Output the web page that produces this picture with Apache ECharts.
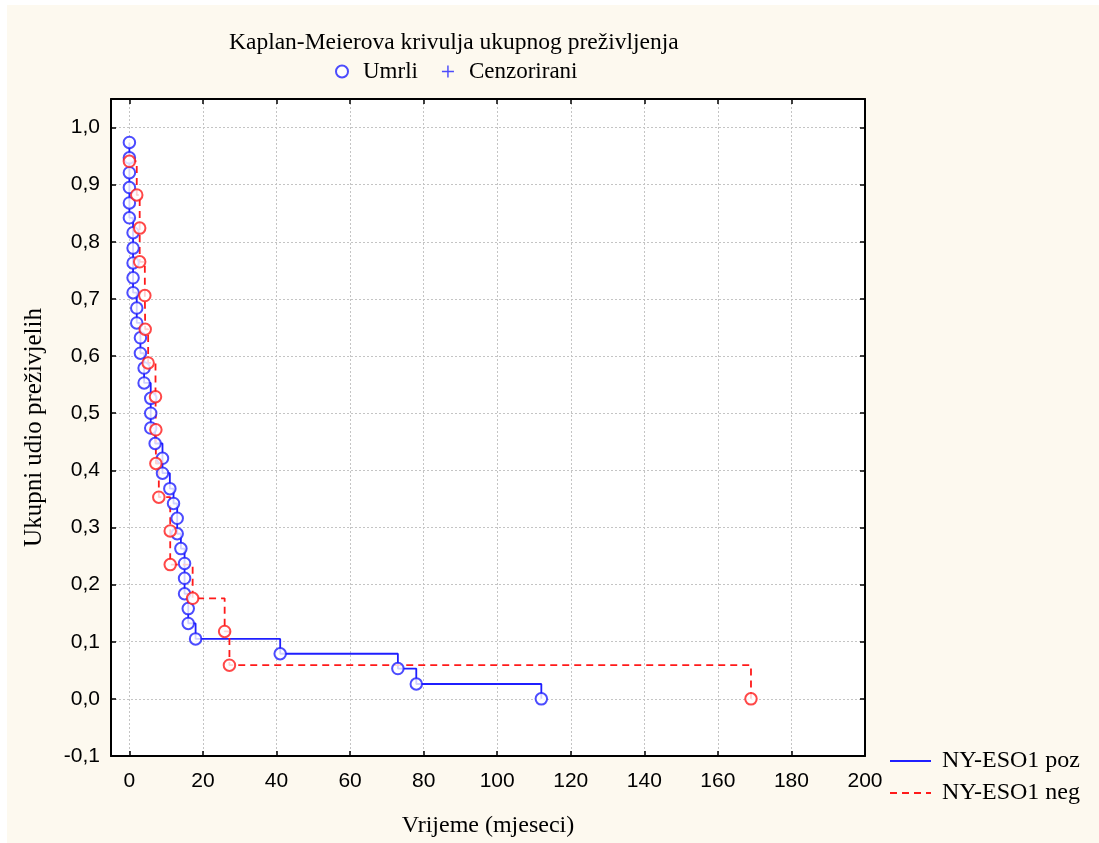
<!DOCTYPE html>
<html>
<head>
<meta charset="utf-8">
<script src="https://cdn.jsdelivr.net/npm/echarts@6/dist/echarts.min.js"></script>
<style>
html,body{margin:0;padding:0;background:#ffffff;}
#c{position:absolute;left:7px;top:5px;width:1092px;height:838px;}
</style>
</head>
<body>
<div id="c"></div>
<script>
// ---- data ----
const titleText = 'Kaplan-Meierova krivulja ukupnog preživljenja';
const xAxisName = 'Vrijeme (mjeseci)';
const yAxisName = 'Ukupni udio preživjelih';
const xTicks = [0, 20, 40, 60, 80, 100, 120, 140, 160, 180, 200];
const yTicks = [-0.1, 0.0, 0.1, 0.2, 0.3, 0.4, 0.5, 0.6, 0.7, 0.8, 0.9, 1.0];

// NY-ESO1 poz: death times (months) and survival after each death
const posTimes = [0, 0, 0, 0, 0, 0, 1, 1, 1, 1, 1, 2, 2, 3, 3, 4, 4, 5.8, 5.8, 5.8,
                  7, 9, 9, 11, 12, 13, 13, 14, 15, 15, 15, 16, 16, 18, 41, 73, 78, 112];
const posSurv  = [0.974, 0.947, 0.921, 0.895, 0.868, 0.842, 0.816, 0.789, 0.763, 0.737,
                  0.711, 0.684, 0.658, 0.632, 0.605, 0.579, 0.553, 0.526, 0.500, 0.474,
                  0.447, 0.421, 0.395, 0.368, 0.342, 0.316, 0.289, 0.263, 0.237, 0.211,
                  0.184, 0.158, 0.132, 0.105, 0.079, 0.053, 0.026, 0.000];

// NY-ESO1 neg
const negTimes = [0, 2, 2.8, 2.8, 4.2, 4.3, 5.1, 7.1, 7.2, 7.2, 8, 11.1, 11.1, 17.2, 25.9, 27.2, 169];
const negSurv  = [0.941, 0.882, 0.824, 0.765, 0.706, 0.647, 0.588, 0.529, 0.471, 0.412,
                  0.353, 0.294, 0.235, 0.176, 0.118, 0.059, 0.000];

// censored observations (none visible)
const censored = [];

// ---- build ----
const posPts = posTimes.map((t, i) => [t, posSurv[i]]);
const negPts = negTimes.map((t, i) => [t, negSurv[i]]);

const BLUE = '#1f1fff';
const RED = '#ff1a1a';
const SERIF = '"Liberation Serif", "Times New Roman", serif';
const SANS = '"Liberation Sans", Arial, sans-serif';
const plusPath = 'path://M4.4,0h1.2v4.4h4.4v1.2h-4.4v4.4h-1.2v-4.4h-4.4v-1.2h4.4z';
const fmt = v => (Math.round(v * 10) / 10).toFixed(1).replace('.', ',');

const chart = echarts.init(document.getElementById('c'), null, {renderer: 'canvas'});

const axisLineStyle = {show: true, onZero: false, lineStyle: {color: '#000', width: 2}};
const splitLine = {show: true, lineStyle: {color: '#c4c4c4', type: [2, 2], width: 1}};

chart.setOption({
  backgroundColor: '#fdf9ef',
  animation: false,
  title: {
    text: titleText,
    left: 217, top: 21,
    textStyle: {fontFamily: SERIF, fontSize: 23.5, fontWeight: 'normal', color: '#000'}
  },
  legend: [
    {
      data: [{name: 'Umrli'}, {name: 'Cenzorirani'}],
      left: 323, top: 50,
      itemWidth: 12, itemHeight: 12, itemGap: 24,
      textStyle: {fontFamily: SERIF, fontSize: 23, color: '#000', padding: [0, 0, 0, 10]}
    },
    {
      data: ['NY-ESO1 poz', 'NY-ESO1 neg'],
      orient: 'vertical',
      left: 877, top: 738,
      itemWidth: 41, itemHeight: 14, itemGap: 6,
      itemStyle: {color: 'rgba(0,0,0,0)', borderColor: 'rgba(0,0,0,0)', borderWidth: 0},
      textStyle: {fontFamily: SERIF, fontSize: 24, color: '#000', padding: [0, 0, 0, 6], lineHeight: 26}
    }
  ],
  grid: {
    left: 104, top: 94, right: 234, bottom: 87,
    show: true, backgroundColor: '#ffffff', borderWidth: 0
  },
  xAxis: [
    {
      type: 'value', min: -5, max: 200, position: 'bottom',
      name: xAxisName, nameLocation: 'middle', nameGap: 58,
      nameTextStyle: {fontFamily: SERIF, fontSize: 24, color: '#000'},
      axisLine: axisLineStyle,
      axisTick: {show: true, inside: true, length: 5, customValues: xTicks, lineStyle: {color: '#000', width: 1.5}},
      axisLabel: {show: true, customValues: xTicks, margin: 15, fontFamily: SANS, fontSize: 21, color: '#000'},
      splitLine: splitLine
    },
    {
      type: 'value', min: -5, max: 200, position: 'top',
      axisLine: axisLineStyle,
      axisTick: {show: true, inside: true, length: 5, customValues: xTicks, lineStyle: {color: '#000', width: 1.5}},
      axisLabel: {show: false},
      splitLine: {show: false}
    }
  ],
  yAxis: [
    {
      type: 'value', min: -0.1, max: 1.05, position: 'left',
      name: yAxisName, nameLocation: 'middle', nameGap: 64, nameRotate: 90,
      nameTextStyle: {fontFamily: SERIF, fontSize: 25, color: '#000'},
      axisLine: axisLineStyle,
      axisTick: {show: true, inside: true, length: 5, customValues: yTicks, lineStyle: {color: '#000', width: 1.5}},
      axisLabel: {show: true, customValues: yTicks, margin: 11, fontFamily: SANS, fontSize: 21, color: '#000', formatter: fmt},
      splitLine: splitLine
    },
    {
      type: 'value', min: -0.1, max: 1.05, position: 'right',
      axisLine: axisLineStyle,
      axisTick: {show: true, inside: true, length: 5, customValues: yTicks, lineStyle: {color: '#000', width: 1.5}},
      axisLabel: {show: false},
      splitLine: {show: false}
    }
  ],
  series: [
    {
      name: 'NY-ESO1 poz', type: 'line', step: 'end', data: posPts,
      symbol: 'none', showSymbol: false,
      lineStyle: {color: BLUE, width: 1.8}, itemStyle: {color: BLUE}, z: 3
    },
    {
      name: 'NY-ESO1 neg', type: 'line', step: 'end', data: negPts,
      symbol: 'none', showSymbol: false,
      lineStyle: {color: RED, width: 1.8, type: [7, 5]}, itemStyle: {color: RED}, z: 3
    },
    {
      name: 'Umrli', type: 'scatter', data: posPts,
      symbol: 'emptyCircle', symbolSize: 11.5,
      itemStyle: {color: BLUE, borderColor: BLUE, borderWidth: 1.4}, z: 4
    },
    {
      name: 'Umrli neg', type: 'scatter', data: negPts,
      symbol: 'emptyCircle', symbolSize: 11.5,
      itemStyle: {color: RED, borderColor: RED, borderWidth: 1.4}, z: 5
    },
    {
      name: 'Cenzorirani', type: 'scatter', data: censored,
      symbol: plusPath, symbolSize: 11,
      itemStyle: {color: BLUE}, z: 5
    }
  ]
});
</script>
</body>
</html>
